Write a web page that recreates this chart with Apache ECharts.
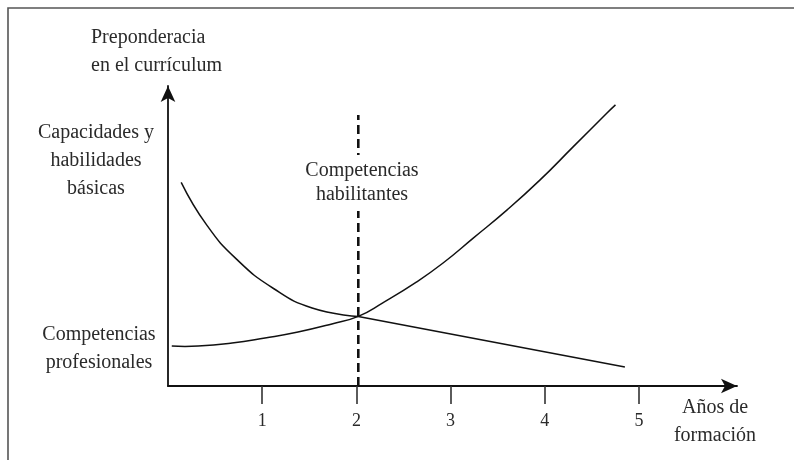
<!DOCTYPE html>
<html>
<head>
<meta charset="utf-8">
<script src="https://cdn.jsdelivr.net/npm/echarts@6/dist/echarts.min.js"></script>
<style>
  html, body { margin: 0; padding: 0; background: #fff; }
  #chart { width: 794px; height: 460px; }
</style>
</head>
<body>
<div id="chart"></div>
<script>
// Years of training (x) vs. weight in the curriculum (y, arbitrary units)
const xTicks = [1, 2, 3, 4, 5];

// "Capacidades y habilidades básicas": falling curve, then straight tail
const basicX = [0.14, 0.41, 0.73, 1.12, 1.53, 2.02];
const basicY = [6.79, 5.37, 4.22, 3.25, 2.60, 2.32];
const basicTailX = [2.02, 4.85];
const basicTailY = [2.32, 0.63];

// "Competencias profesionales": rising curve
const profX = [0.04, 0.32, 0.68, 1.03, 1.38, 1.74, 2.02, 2.28, 2.64, 2.92, 3.24, 3.60, 3.95, 4.30, 4.66, 4.75];
const profY = [1.33, 1.33, 1.43, 1.60, 1.80, 2.07, 2.32, 2.77, 3.47, 4.10, 4.93, 5.87, 6.87, 7.97, 9.10, 9.37];

// "Competencias habilitantes": dashed divider
const dividerX = [2.02, 2.02];
const dividerY = [0, 9.03];

const zip = (xs, ys) => xs.map((x, i) => [x, ys[i]]);

const FONT = '"Liberation Serif", "DejaVu Serif", serif';
const INK = '#111';
const TEXT = '#2a2a2a';

function label(text, x, y, align) {
    return {
        type: 'text',
        x: x,
        y: y,
        z: 10,
        style: {
            text: text,
            font: '20px ' + FONT,
            fill: TEXT,
            textAlign: align || 'center',
            textVerticalAlign: 'middle',
            lineHeight: 28
        }
    };
}

// Smooth curve through all points of a series, drawn once (at the first item)
function smoothCurve(name, xs, ys) {
    return {
        name: name,
        type: 'custom',
        coordinateSystem: 'cartesian2d',
        encode: { x: 0, y: 1 },
        data: zip(xs, ys),
        renderItem: (params, api) => {
            if (params.dataIndex !== 0) return null;
            const pts = xs.map((x, i) => api.coord([x, ys[i]]));
            return {
                type: 'polyline',
                shape: { points: pts, smooth: 0.5 },
                style: { stroke: INK, lineWidth: 1.5, fill: null }
            };
        }
    };
}

const chart = echarts.init(document.getElementById('chart'));

chart.setOption({
    animation: false,
    backgroundColor: '#fff',
    grid: { left: 168, right: 57, top: 86, bottom: 74 },
    xAxis: {
        type: 'value',
        min: 0,
        max: 6.04,
        interval: 1,
        splitLine: { show: false },
        axisLine: {
            show: true,
            symbol: ['none', 'arrow'],
            symbolSize: [11, 16],
            lineStyle: { color: INK, width: 1.8 }
        },
        axisTick: {
            show: true,
            customValues: xTicks,
            length: 18,
            lineStyle: { color: '#333', width: 1.6 }
        },
        axisLabel: {
            customValues: xTicks,
            margin: 26,
            color: TEXT,
            fontFamily: FONT,
            fontSize: 18
        }
    },
    yAxis: {
        type: 'value',
        min: 0,
        max: 10,
        splitLine: { show: false },
        axisTick: { show: false },
        axisLabel: { show: false },
        axisLine: {
            show: true,
            symbol: ['none', 'arrow'],
            symbolSize: [11, 16],
            lineStyle: { color: INK, width: 1.8 }
        }
    },
    series: [
        smoothCurve('Capacidades y habilidades básicas', basicX, basicY),
        {
            name: 'Capacidades (tramo final)',
            type: 'line',
            showSymbol: false,
            lineStyle: { color: INK, width: 1.5 },
            data: zip(basicTailX, basicTailY)
        },
        smoothCurve('Competencias profesionales', profX, profY),
        {
            name: 'Competencias habilitantes',
            type: 'line',
            showSymbol: false,
            lineStyle: { color: INK, width: 2.6, type: [9, 5] },
            data: zip(dividerX, dividerY)
        }
    ],
    graphic: [
        {
            type: 'rect',
            shape: { x: 8, y: 8, width: 820, height: 480 },
            style: { fill: 'none', stroke: '#555', lineWidth: 1.6 }
        },
        label('Preponderacia\nen el currículum', 91, 52, 'left'),
        label('Capacidades y\nhabilidades\nbásicas', 96, 161),
        label('Competencias\nprofesionales', 99, 349),
        {
            type: 'text',
            x: 362,
            y: 183,
            z: 10,
            style: {
                text: 'Competencias\nhabilitantes',
                font: '20px ' + FONT,
                fill: TEXT,
                textAlign: 'center',
                textVerticalAlign: 'middle',
                lineHeight: 24,
                backgroundColor: '#fff',
                padding: [4, 2, 4, 2]
            }
        },
        label('Años de\nformación', 715, 422)
    ]
});
</script>
</body>
</html>
